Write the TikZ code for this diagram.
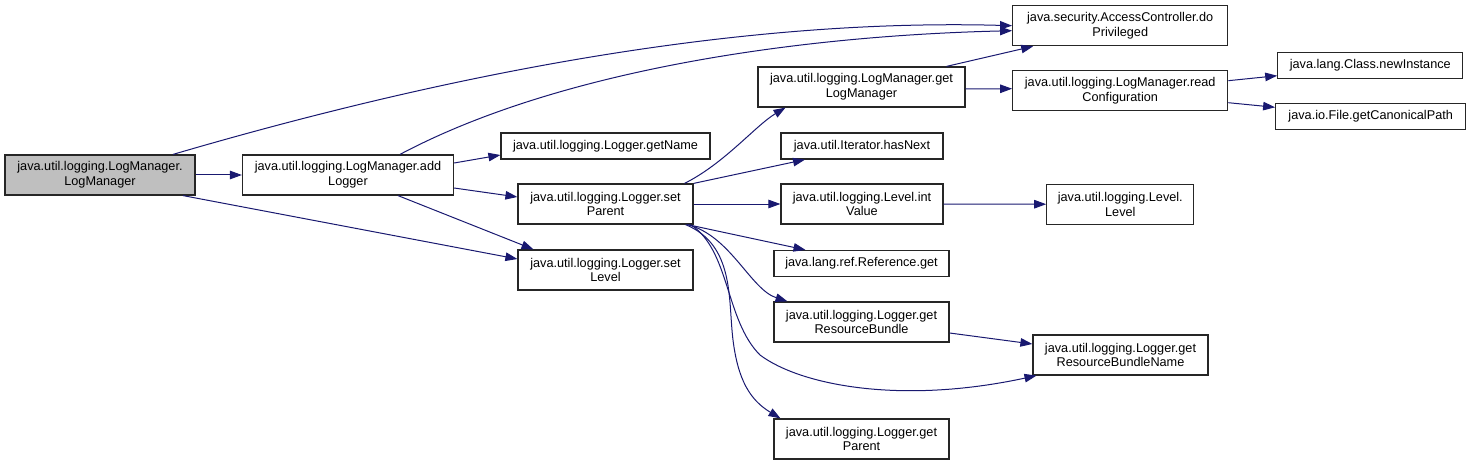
\documentclass[tikz,border=0pt]{standalone}
\usepackage{fontspec}
\setmainfont{Liberation Sans}
\usetikzlibrary{arrows.meta}
\definecolor{edgeblue}{HTML}{191970}
\tikzset{
  fn/.style   = {draw=black!85, line width=1.2pt, fill=white, align=center,
                 inner sep=0pt, minimum height=40pt,
                 font=\fontsize{12.7}{14.7}\selectfont},
  fnone/.style= {fn, minimum height=26pt},
  root/.style = {fn, fill=black!25},
  call/.style = {-{Triangle[length=12pt,width=8.5pt]}, line width=1pt, draw=edgeblue}
}
\begin{document}
\begin{tikzpicture}[x=1pt, y=-1pt]
  \useasboundingbox (0,0) rectangle (1471,465);
  % columns, left to right
  \node[root, minimum width=190pt]  (ctor)    at (100,175)    {java.util.logging.LogManager.\\LogManager};
  \node[fn, minimum width=211pt]    (addlog)  at (348,175)    {java.util.logging.LogManager.add\\Logger};
  \node[fnone, minimum width=209pt] (getname) at (605.5,146)  {java.util.logging.Logger.getName};
  \node[fn, minimum width=175pt]    (setpar)  at (605.5,204)  {java.util.logging.Logger.set\\Parent};
  \node[fn, minimum width=175pt]    (setlvl)  at (605.5,270)  {java.util.logging.Logger.set\\Level};
  \node[fn, minimum width=207pt]    (getlm)   at (861.5,87)   {java.util.logging.LogManager.get\\LogManager};
  \node[fnone, minimum width=162pt] (hasnext) at (862,146)    {java.util.Iterator.hasNext};
  \node[fn, minimum width=162pt]    (intval)  at (862,204)    {java.util.logging.Level.int\\Value};
  \node[fnone, minimum width=175pt] (refget)  at (861.5,263.5){java.lang.ref.Reference.get};
  \node[fn, minimum width=175pt]    (getrb)   at (861.5,322)  {java.util.logging.Logger.get\\ResourceBundle};
  \node[fn, minimum width=175pt]    (getpar)  at (861.5,439)  {java.util.logging.Logger.get\\Parent};
  \node[fn, minimum width=215pt]    (dopriv)  at (1120.2,25.7){java.security.AccessController.do\\Privileged};
  \node[fn, minimum width=215pt]    (readcfg) at (1120.2,90.7){java.util.logging.LogManager.read\\Configuration};
  \node[fn, minimum width=147pt]    (lvl)     at (1120.3,204.3){java.util.logging.Level.\\Level};
  \node[fn, minimum width=175pt]    (getrbn)  at (1120.5,355) {java.util.logging.Logger.get\\ResourceBundleName};
  \node[fnone, minimum width=185pt] (newinst) at (1370.3,65.7){java.lang.Class.newInstance};
  \node[fnone, minimum width=190pt] (canon)   at (1370.7,116.3){java.io.File.getCanonicalPath};
  % calls
  \draw[call] (ctor) -- (addlog);
  \draw[call] ([xshift=73pt]ctor.north) .. controls +(307,-90) and +(-252,-7) .. (dopriv.west);
  \draw[call] ([xshift=83pt]ctor.south) -- ([yshift=11pt]setlvl.west);
  \draw[call] ([xshift=52pt]addlog.north) .. controls +(160,-85) and +(-212,5) .. ([yshift=-5pt]dopriv.west);
  \draw[call] ([yshift=12pt]addlog.east) -- ([yshift=-9pt]getname.west);
  \draw[call] ([yshift=-13pt]addlog.east) -- ([yshift=7pt]setpar.west);
  \draw[call] ([xshift=50pt]addlog.south) -- ([xshift=-72pt]setlvl.north);
  \draw[call] ([xshift=79pt]setpar.north) .. controls +(40,-20) and +(-30,18) .. ([xshift=-76pt]getlm.south);
  \draw[call] (setpar.north east) -- ([xshift=-57pt]hasnext.south);
  \draw[call] (setpar) -- (intval);
  \draw[call] ([xshift=82pt]setpar.south) -- ([xshift=-56pt]refget.north);
  \draw[call] ([xshift=82pt]setpar.south) .. controls +(43,11) and +(-37,-12) .. ([xshift=-74pt]getrb.north);
  \draw[call] ([xshift=85pt]setpar.south) .. controls (730,250) and (725,320) .. (760,355)
              .. controls (800,385) and (900,405) .. ([xshift=-84pt]getrbn.south);
  \draw[call] ([xshift=80pt]setpar.south) .. controls (735,245) and (728,300) .. (733,340)
              .. controls (738,380) and (750,400) .. ([xshift=-81pt]getpar.north);
  \draw[call] ([xshift=85pt]getlm.north) -- ([xshift=-87pt]dopriv.south);
  \draw[call] ([yshift=-2pt]getlm.east) -- ([yshift=2pt]readcfg.west);
  \draw[call] ([yshift=10pt]readcfg.east) -- ([yshift=-10pt]newinst.west);
  \draw[call] ([yshift=-12pt]readcfg.east) -- ([yshift=9pt]canon.west);
  \draw[call] (intval) -- (lvl);
  \draw[call] ([yshift=-11pt]getrb.east) -- ([yshift=11pt]getrbn.west);
\end{tikzpicture}
\end{document}
